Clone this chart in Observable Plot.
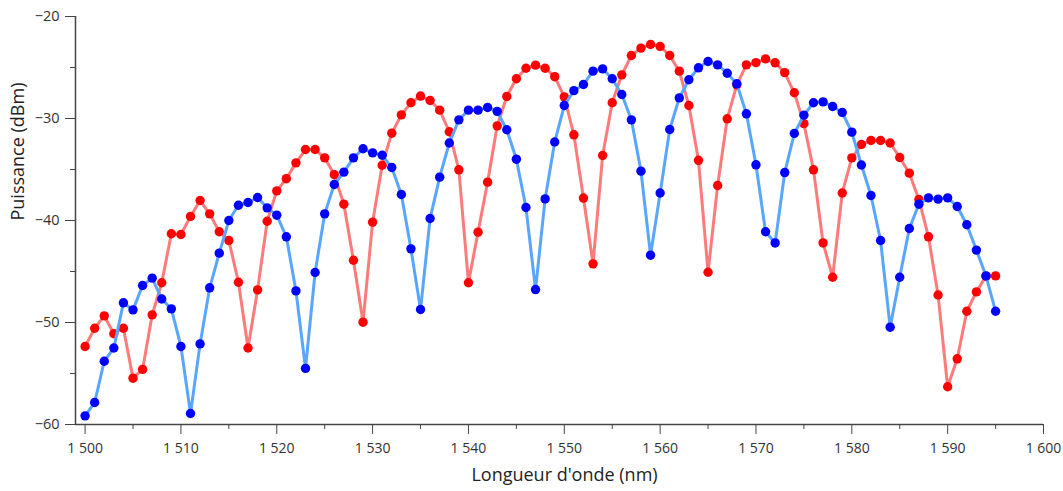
<!DOCTYPE html>
<html><head><meta charset="utf-8">
<script src="https://cdn.jsdelivr.net/npm/d3@7"></script>
<script src="https://cdn.jsdelivr.net/npm/@observablehq/plot@0.6"></script>
<style>body{margin:0;background:#fff;}</style>
</head><body><div id="chart"></div>
<script>
const wavelength = [1500,1501,1502,1503,1504,1505,1506,1507,1508,1509,1510,1511,1512,1513,1514,1515,1516,1517,1518,1519,
1520,1521,1522,1523,1524,1525,1526,1527,1528,1529,1530,1531,1532,1533,1534,1535,1536,1537,1538,1539,
1540,1541,1542,1543,1544,1545,1546,1547,1548,1549,1550,1551,1552,1553,1554,1555,1556,1557,1558,1559,
1560,1561,1562,1563,1564,1565,1566,1567,1568,1569,1570,1571,1572,1573,1574,1575,1576,1577,1578,1579,
1580,1581,1582,1583,1584,1585,1586,1587,1588,1589,1590,1591,1592,1593,1594,1595];
const redPower = [-52.35,-50.56,-49.35,-51.1,-50.56,-55.46,-54.6,-49.25,-46.1,-41.3,
-41.37,-39.6,-38.04,-39.35,-41.1,-41.96,-46.05,-52.5,-46.8,-40.07,
-37.1,-35.9,-34.35,-33.04,-33.04,-33.86,-35.5,-38.4,-43.9,-49.97,
-40.16,-34.58,-31.44,-29.64,-28.46,-27.8,-28.24,-29.18,-31.3,-35.03,
-46.1,-41.14,-36.24,-30.72,-27.84,-26.1,-25.07,-24.77,-25.07,-25.9,
-27.88,-31.6,-37.8,-44.25,-33.63,-28.46,-25.72,-23.82,-23.1,-22.75,
-22.94,-23.82,-25.36,-28.73,-34.1,-45.07,-36.57,-30.03,-26.7,-24.74,
-24.52,-24.15,-24.54,-25.5,-27.48,-30.5,-35.03,-42.2,-45.56,-37.3,
-33.86,-32.55,-32.16,-32.16,-32.4,-33.82,-35.36,-37.94,-41.6,-47.3,
-56.3,-53.56,-48.9,-47.0,-45.46,-45.43];
const bluePower = [-59.15,-57.84,-53.8,-52.5,-48.07,-48.76,-46.37,-45.65,-47.7,-48.66,
-52.35,-58.92,-52.1,-46.6,-43.2,-40.0,-38.5,-38.24,-37.75,-38.76,
-39.48,-41.6,-46.9,-54.5,-45.1,-39.35,-36.47,-35.26,-33.86,-32.97,
-33.37,-33.6,-34.8,-37.45,-42.78,-48.73,-39.8,-35.75,-32.4,-30.13,
-29.18,-29.18,-28.92,-29.3,-31.1,-33.99,-38.73,-46.77,-37.88,-32.3,
-28.73,-27.27,-26.67,-25.36,-25.13,-26.1,-27.65,-30.13,-35.16,-43.4,
-37.3,-31.08,-27.98,-26.2,-25.03,-24.41,-24.74,-25.56,-26.6,-29.54,
-34.54,-41.1,-42.2,-35.3,-31.47,-29.67,-28.46,-28.37,-28.82,-29.41,
-31.34,-34.56,-37.55,-41.96,-50.46,-45.56,-40.78,-38.4,-37.78,-37.9,
-37.78,-38.63,-40.42,-42.9,-45.43,-48.9];
const xTicks = [1500,1510,1520,1530,1540,1550,1560,1570,1580,1590,1600];
const xMinorTicks = [1505,1515,1525,1535,1545,1555,1565,1575,1585,1595];
const yTicks = [-60,-50,-40,-30,-20];
const yMinorTicks = [-55,-45,-35,-25];
const xTitle = "Longueur d'onde (nm)";
const yTitle = "Puissance (dBm)";

const red = wavelength.map((x, i) => ({x, y: redPower[i]}));
const blue = wavelength.map((x, i) => ({x, y: bluePower[i]}));
const fmtX = d => `${Math.floor(d / 1000)} ${String(d % 1000).padStart(3, "0")}`;
const fmtY = d => d < 0 ? "\u2212" + Math.abs(d) : String(d);
const axisColor = "#444";

const chart = Plot.plot({
  width: 1063, height: 491,
  marginLeft: 75, marginRight: 20, marginTop: 16, marginBottom: 67,
  style: {fontFamily: "'Open Sans', sans-serif", fontSize: "14px", color: "#333", background: "#fff"},
  x: {domain: [1499, 1600]},
  y: {domain: [-60, -20]},
  marks: [
    Plot.ruleY([-60], {stroke: axisColor, strokeWidth: 1.5}),
    Plot.ruleX([1499], {stroke: axisColor, strokeWidth: 1.5}),
    Plot.axisX(xTicks, {tickSize: 10, tickPadding: 9, tickFormat: fmtX, label: null, stroke: axisColor, fontSize: 14}),
    Plot.axisX(xMinorTicks, {tickSize: 5, tickFormat: () => "", label: null, stroke: axisColor}),
    Plot.axisY(yTicks, {tickSize: 10, tickPadding: 6, tickFormat: fmtY, label: null, stroke: axisColor, fontSize: 14.5}),
    Plot.axisY(yMinorTicks, {tickSize: 5, tickFormat: () => "", label: null, stroke: axisColor}),
    Plot.line(red, {x: "x", y: "y", stroke: "#ff7b7b", strokeWidth: 3}),
    Plot.dot(red, {x: "x", y: "y", r: 4.7, fill: "#ff0000", stroke: "none"}),
    Plot.line(blue, {x: "x", y: "y", stroke: "#58a6ff", strokeWidth: 3}),
    Plot.dot(blue, {x: "x", y: "y", r: 4.7, fill: "#0000ff", stroke: "none"}),
    Plot.text([xTitle], {frameAnchor: "bottom", dy: 56, dx: 5, fontSize: 18, fill: "#222"}),
    Plot.text([yTitle], {frameAnchor: "left", rotate: -90, dx: -57, fontSize: 18, fill: "#222"})
  ]
});
document.getElementById("chart").appendChild(chart);
</script>
</body></html>
